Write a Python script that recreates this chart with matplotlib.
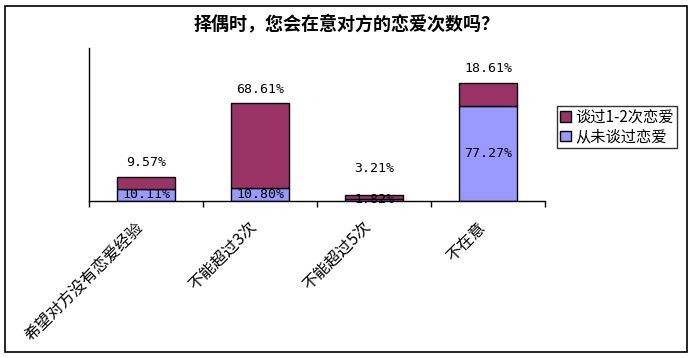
import matplotlib.pyplot as plt
import matplotlib.transforms as mtransforms
import numpy as np
from matplotlib.patches import Rectangle

plt.rcParams['font.family'] = ['Noto Sans CJK SC', 'DejaVu Sans']

title = '择偶时，您会在意对方的恋爱次数吗？'
categories = ['希望对方没有恋爱经验', '不能超过3次', '不能超过5次', '不在意']
never = [10.11, 10.80, 1.82, 77.27]      # 从未谈过恋爱
once_twice = [9.57, 68.61, 3.21, 18.61]  # 谈过1-2次恋爱
series_names = ['谈过1-2次恋爱', '从未谈过恋爱']

purple = '#993366'
blue = '#9999FF'

fig = plt.figure(figsize=(6.94, 3.58), dpi=100)
ax = fig.add_axes([89 / 694, 1 - 201 / 358, 456 / 694, 153 / 358])

x = np.arange(len(categories))
b1 = ax.bar(x, never, width=0.51, color=blue, edgecolor='black', linewidth=1)
b2 = ax.bar(x, once_twice, width=0.51, bottom=never, color=purple,
            edgecolor='black', linewidth=1)

ax.set_xlim(-0.5, len(categories) - 0.5)
ax.set_ylim(0, 124)

# value labels
top_offsets = [14, 14, 26, 14]
for i in range(len(categories)):
    ax.text(x[i], never[i] / 2, f'{never[i]:.2f}%', ha='center', va='center',
            family='DejaVu Sans Mono', fontsize=9.5)
    ax.annotate(f'{once_twice[i]:.2f}%', (x[i], never[i] + once_twice[i]),
                xytext=(0, top_offsets[i]), textcoords='offset pixels',
                ha='center', va='center', family='DejaVu Sans Mono', fontsize=9.5)

for s in ['top', 'right']:
    ax.spines[s].set_visible(False)
ax.spines['left'].set_linewidth(1)
ax.spines['bottom'].set_linewidth(1)
ax.set_yticks([])

ax.set_xticks(x)
ax.set_xticklabels(categories, rotation=45, ha='right', va='top',
                   rotation_mode='anchor', fontsize=11.5)
ax.tick_params(axis='x', which='major', length=0, pad=11)
shift = mtransforms.ScaledTranslation(-11 / 100, -3 / 100, fig.dpi_scale_trans)
for lbl in ax.get_xticklabels():
    lbl.set_transform(lbl.get_transform() + shift)
ax.set_xticks(np.arange(len(categories) + 1) - 0.5, minor=True)
ax.tick_params(axis='x', which='minor', length=4, width=1, direction='out')

fig.text(0.5, 1 - 24 / 358, title, ha='center', va='center',
         fontsize=13, fontweight='bold')

leg = fig.legend([b2, b1], series_names, loc='upper left',
                 bbox_to_anchor=(557 / 694, 1 - 106 / 358),
                 frameon=True, fancybox=False, edgecolor='black',
                 fontsize=11, handlelength=0.7, handleheight=0.7,
                 handletextpad=0.3, borderpad=0.2, labelspacing=0.15,
                 borderaxespad=0)
leg.get_frame().set_linewidth(1)

fig.patches.append(Rectangle((5 / 694, 6 / 358), 682 / 694, 346 / 358,
                             transform=fig.transFigure, fill=False,
                             edgecolor='black', linewidth=1.2))

fig.savefig('out.png', dpi=100)
